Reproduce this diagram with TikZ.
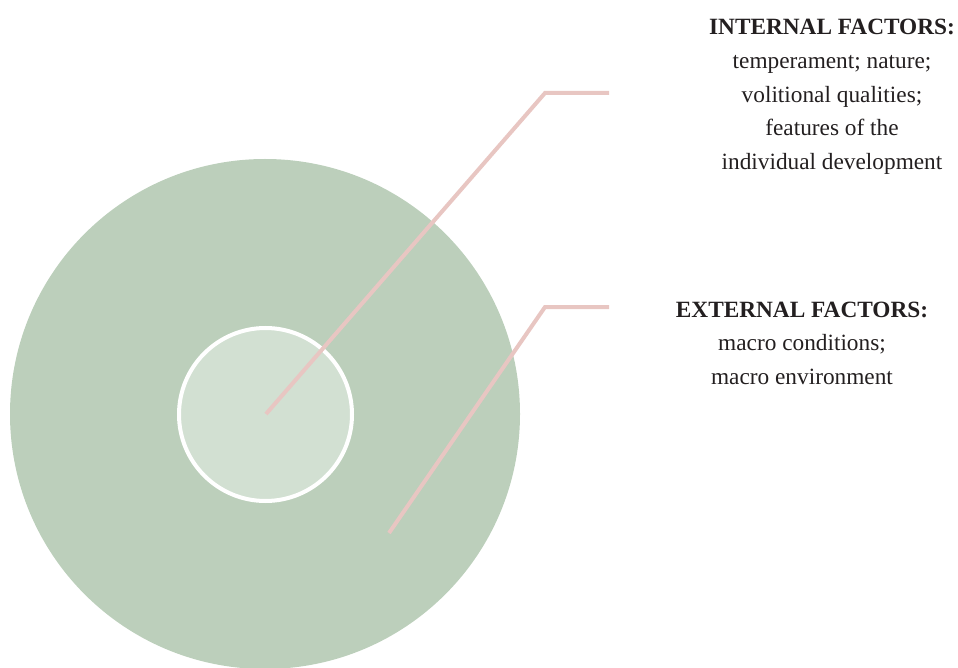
\documentclass[tikz,border=0pt]{standalone}
\usepackage{fontspec}
\setmainfont{Liberation Serif}
\definecolor{outergreen}{HTML}{BCCFBB}
\definecolor{innergreen}{HTML}{D2E0D2}
\definecolor{leader}{HTML}{E8C6C2}
\definecolor{inktext}{HTML}{231F20}
\tikzset{
  leaderline/.style={draw=leader, line width=4pt, line join=miter},
  factortext/.style={align=center, inner sep=0pt, anchor=north,
    font=\fontsize{23.3}{33.8}\selectfont, text=inktext}
}
\begin{document}
\begin{tikzpicture}[x=1pt, y=-1pt]
  \useasboundingbox (0,0) rectangle (958,668);
  \clip (0,0) rectangle (958,668);
  % concentric circles
  \node (outer) [circle, fill=outergreen, minimum size=510pt, inner sep=0pt] at (265,414) {};
  \node (inner) [circle, fill=innergreen, draw=white, line width=4pt, minimum size=173pt, inner sep=0pt] at (265.5,414.5) {};
  % leader line ends
  \coordinate (cin) at (266,414);
  \coordinate (kin) at (545,93);
  \coordinate (ein) at (609,93);
  \coordinate (cex) at (389,533);
  \coordinate (kex) at (545,307);
  \coordinate (eex) at (609,307);
  \draw[leaderline] (cin) -- (kin) -- (ein);
  \draw[leaderline] (cex) -- (kex) -- (eex);
  % labels
  \node (internal) [factortext] at (832,18.8) {\textbf{INTERNAL FACTORS:}\\temperament; nature;\\volitional qualities;\\features of the\\individual development};
  \node (external) [factortext] at (802,301.5) {\textbf{EXTERNAL FACTORS:}\\macro conditions;\\macro environment};
\end{tikzpicture}
\end{document}
